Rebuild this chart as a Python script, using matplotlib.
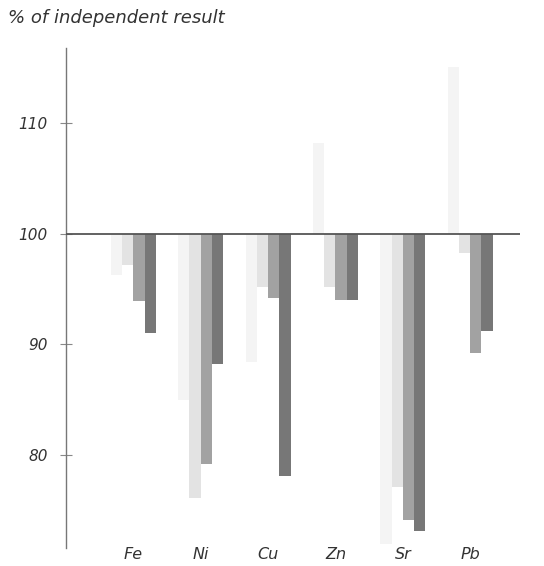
import matplotlib
matplotlib.use("Agg")
import matplotlib.pyplot as plt
import numpy as np

elements = ["Fe", "Ni", "Cu", "Zn", "Sr", "Pb"]
series_a = [96.3, 85.0, 88.4, 108.2, 72.0, 115.1]   # lightest
series_b = [97.2, 76.1, 95.2, 95.2, 77.1, 98.3]     # light
series_c = [93.9, 79.2, 94.2, 94.0, 74.1, 89.2]     # medium
series_d = [91.0, 88.2, 78.1, 94.0, 73.1, 91.2]     # dark
yticks = [80, 90, 100, 110]

colors = ["#f4f4f4", "#e3e3e3", "#a2a2a2", "#777777"]
series = [series_a, series_b, series_c, series_d]

fig = plt.figure(figsize=(5.44, 5.66), dpi=100)
ax = fig.add_axes([66/544, 18/566, (520-66)/544, (548-48)/566])

x = np.arange(len(elements))
w = 0.167
for i, (vals, c) in enumerate(zip(series, colors)):
    vals = np.array(vals)
    ax.bar(x + (i - 1.5) * w, vals - 100, bottom=100, width=w, color=c,
           edgecolor="none", zorder=2)

ax.axhline(100, color="#555555", lw=1.3, zorder=3)
ax.set_xlim(-1, 5.74)
ax.set_ylim(71.6, 116.8)

for s in ["top", "right", "bottom"]:
    ax.spines[s].set_visible(False)
ax.spines["left"].set_color("#777777")
ax.spines["left"].set_linewidth(1.0)

ax.set_yticks(yticks)
ax.set_yticklabels([str(t) for t in yticks], fontstyle="italic", fontsize=11,
                   color="#333333")
ax.tick_params(axis="y", direction="inout", length=8, width=0.8,
               color="#888888", pad=9)
ax.set_xticks(x)
ax.set_xticklabels(elements, fontstyle="italic", fontsize=11.5, color="#333333")
ax.tick_params(axis="x", length=0, pad=-1)

fig.text(8/544, 1 - 18/566, "% of independent result", fontstyle="italic",
         fontsize=13, color="#333333", va="center", ha="left")

fig.savefig("out.png", dpi=100)
